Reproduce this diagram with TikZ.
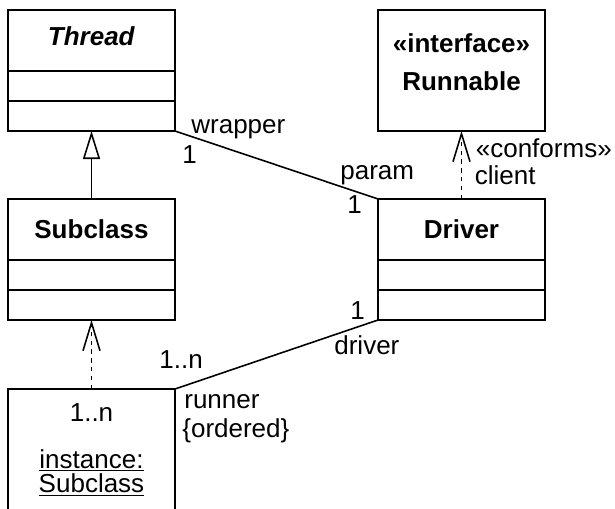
\documentclass[tikz,border=0pt]{standalone}
\usepackage{fontspec}
\setmainfont{Liberation Sans}
\usetikzlibrary{arrows.meta,positioning}

\begin{document}
\begin{tikzpicture}[
  nombre/.style={rectangle, draw, line width=1.6pt, outer sep=0pt, minimum width=3.34cm, minimum height=1.22cm, font=\fontsize{14.8}{17}\selectfont\bfseries},
  compart/.style={rectangle, draw, line width=1.6pt, outer sep=0pt, minimum width=3.34cm, minimum height=0.6cm},
  etiq/.style={inner sep=0pt, font=\fontsize{14.8}{17}\selectfont},
  enlace/.style={line width=0.9pt},
  depend/.style={line width=0.9pt, dash pattern=on 2.5pt off 2.5pt, -{Straight Barb[length=0.56cm, width=0.34cm]}},
  herencia/.style={line width=0.9pt, -{Triangle[open, length=0.56cm, width=0.34cm]}}
]
\useasboundingbox (0,0) rectangle (12.3,-10.16);

% Clase Thread
\node[nombre, text depth=0.18cm] (T1) at (1.83,-0.81) {\textit{Thread}};
\node[compart, below=0pt of T1] (T2) {};
\node[compart, below=0pt of T2] (T3) {};

% Clase Subclass
\node[nombre] (S1) at (1.83,-4.59) {Subclass};
\node[compart, below=0pt of S1] (S2) {};
\node[compart, below=0pt of S2] (S3) {};

% Clase Driver
\node[nombre] (D1) at (9.23,-4.59) {Driver};
\node[compart, below=0pt of D1] (D2) {};
\node[compart, below=0pt of D2] (D3) {};

% Interfaz Runnable
\node[nombre, minimum height=2.42cm, align=center, text depth=0.32cm] (R) at (9.23,-1.41) {«interface»\\[0.16cm]Runnable};

% Instancia
\node[compart, anchor=north, minimum height=2.44cm, align=center, font=\fontsize{14.8}{13.7}\selectfont] (inst) at (1.83,-7.78) {1..n\\[0.44cm]\underline{instance:}\\\underline{Subclass}};

% Asociaciones
\draw[enlace] (T3.south east) -- (D1.north west);
\draw[enlace] (D3.south west) -- (inst.north east);

% Herencia y dependencias
\draw[herencia] (S1) -- (T3);
\draw[depend] (inst) -- (S3);
\draw[depend] (D1) -- (R);

% Roles y multiplicidades
\node[etiq, anchor=base west] (lwrapper) at ([shift={(0.32,-0.04)}]T3.south east) {wrapper};
\node[etiq, anchor=base west] (lw1) at ([shift={(0.14,-0.64)}]T3.south east) {1};
\node[etiq, anchor=base west] (lparam) at ([shift={(-0.76,0.4)}]D1.north west) {param};
\node[etiq, anchor=base west] (lp1) at ([shift={(-0.62,-0.28)}]D1.north west) {1};
\node[etiq, anchor=base west] (lconforms) at ([shift={(0.28,0.84)}]D1.north) {«conforms»};
\node[etiq, anchor=base west] (lclient) at ([shift={(0.26,0.3)}]D1.north) {client};
\node[etiq, anchor=base west] (ld1) at ([shift={(-0.56,0.02)}]D3.south west) {1};
\node[etiq, anchor=base west] (ldriver) at ([shift={(-0.88,-0.68)}]D3.south west) {driver};
\node[etiq, anchor=base west] (lrn) at ([shift={(-0.32,0.42)}]inst.north east) {1..n};
\node[etiq, anchor=base west] (lrunner) at ([shift={(0.18,-0.38)}]inst.north east) {runner};
\node[etiq, anchor=base west] (lordered) at ([shift={(0.14,-0.96)}]inst.north east) {\{ordered\}};

\end{tikzpicture}
\end{document}
